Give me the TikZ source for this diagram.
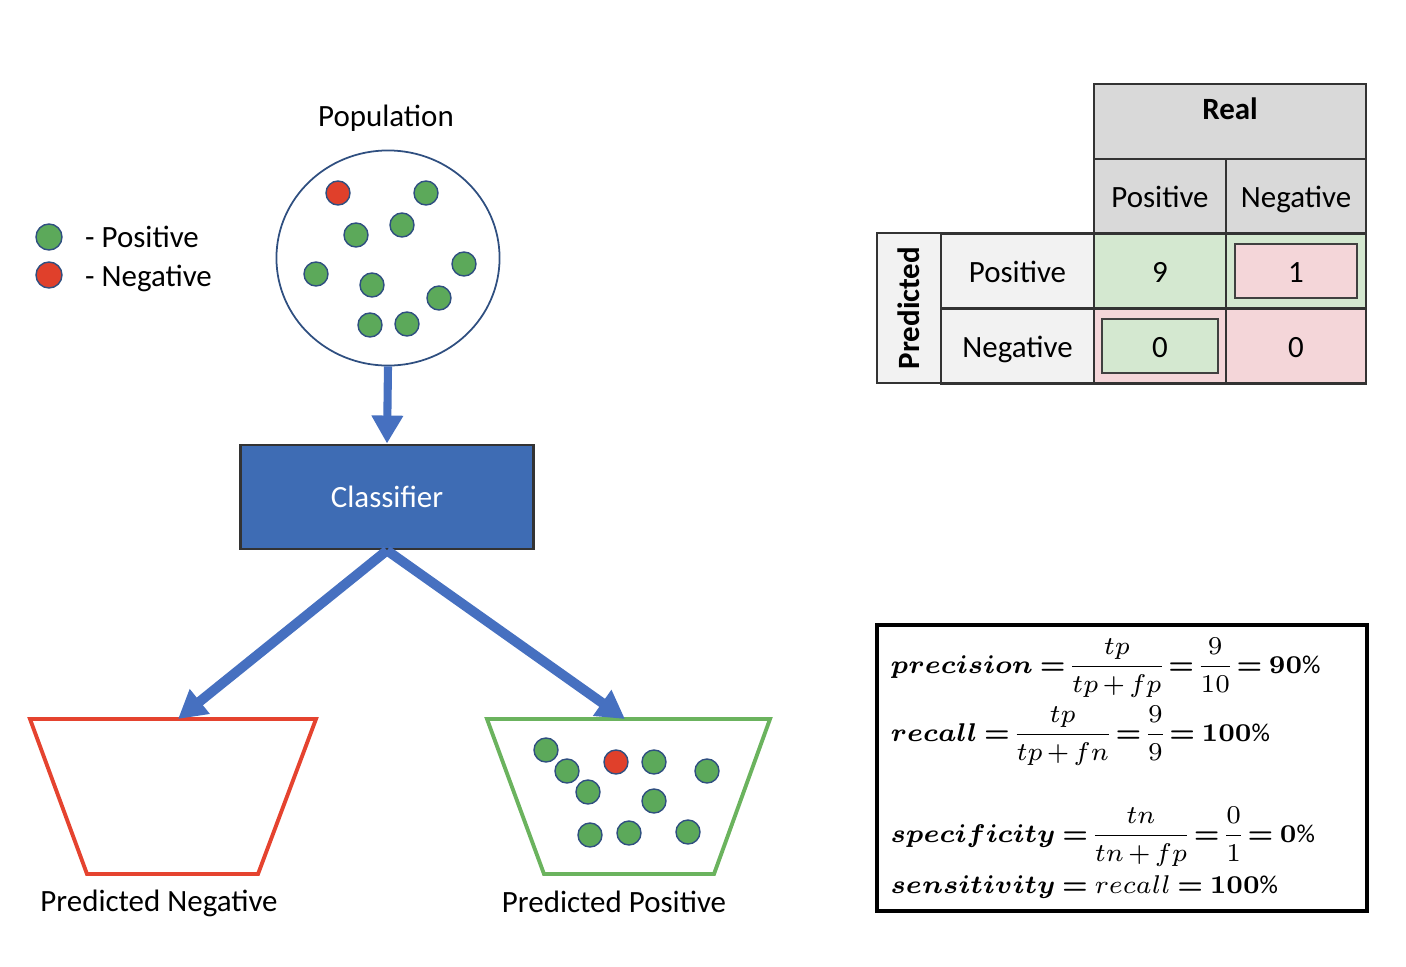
\RequirePackage{fix-cm}
\documentclass[tikz,border=0pt]{standalone}
\usepackage{amsmath,amssymb}
\usepackage{bm}
\usepackage{fontspec}
\setmainfont{Carlito}
\usepackage{xcolor}
\usepackage{tikz}
\usetikzlibrary{shapes,arrows.meta,positioning,calc,shapes.geometric}

\definecolor{arrowblue}{HTML}{4670C0}
\definecolor{clfblue}{HTML}{3E6CB4}
\definecolor{dotgreen}{HTML}{5CA95A}
\definecolor{dotred}{HTML}{E0402B}
\definecolor{dotline}{HTML}{2F4F80}
\definecolor{negred}{HTML}{E5432F}
\definecolor{posgreen}{HTML}{6BB35E}
\definecolor{headgray}{HTML}{D9D9D9}
\definecolor{lblgray}{HTML}{F2F2F2}
\definecolor{cellgreen}{HTML}{D4E8D0}
\definecolor{cellred}{HTML}{F4D6D9}

\newcommand{\formfont}{\fontsize{7.3}{9}\selectfont\thickmuskip=4mu\relax\medmuskip=2.5mu\relax\nulldelimiterspace=0pt\relax}

\begin{document}
\begin{tikzpicture}[x=0.01cm, y=-0.01cm, font=\fontsize{8.8}{10.5}\selectfont]
    \tikzstyle{dot} = [circle, draw=dotline, line width=0.4pt, minimum size=0.24cm, inner sep=0pt]
    \tikzstyle{posdot} = [dot, fill=dotgreen]
    \tikzstyle{negdot} = [dot, fill=dotred]
    \tikzstyle{bigarrow} = [draw=arrowblue, line width=2.3pt, -{Triangle[width=3mm, length=2.8mm]}]
    \tikzstyle{bucket} = [line width=1.1pt, line join=miter]
    \tikzstyle{cell} = [rectangle, draw=black!80, line width=0.7pt, minimum height=0.75cm, inner sep=0pt, text height=0.64em, text depth=0pt]
    \tikzstyle{inbox} = [rectangle, draw=black!75, line width=0.6pt, minimum height=0.54cm, inner sep=0pt, text height=0.64em, text depth=0pt]
    \tikzstyle{formula} = [anchor=base west, inner sep=0pt, font=\formfont]

    \useasboundingbox (0,0) rectangle (1406,966);

    % legend
    \node [posdot, minimum size=0.26cm] (legpos) at (49,237) {};
    \node [negdot, minimum size=0.26cm] (legneg) at (49,275) {};
    \node [right=0.1cm of legpos] (legpostxt) {- Positive};
    \node [right=0.1cm of legneg, yshift=-0.03cm] (legnegtxt) {- Negative};

    % population
    \node [ellipse, draw=dotline, line width=0.5pt, minimum width=2.23cm, minimum height=2.15cm] (pop) at (388,258) {};
    \node (poptitle) at (386,118) {Population};
    \node [negdot] (pd0) at (338,193) {};
    \foreach \x/\y [count=\i] in {426/193, 402/225, 356/235, 316/274, 464/264, 372/285, 439/298, 370/325, 407/324}
        \node [posdot] (pd\i) at (\x,\y) {};

    % classifier
    \node [rectangle, draw=black!80, line width=0.8pt, fill=clfblue, text=white, minimum width=2.93cm, minimum height=1.04cm] (clf) at (387,497) {Classifier};
    \draw [bigarrow] (pop.south) -- (clf.north);

    % outputs
    \coordinate (negtop) at (178,719);
    \coordinate (postop) at (625,719);
    \draw [bucket, draw=negred] (30,719) -- (316,719) -- (258,874) -- (87,874) -- cycle;
    \draw [bucket, draw=posgreen] (487,719) -- (770,719) -- (714,874) -- (544,874) -- cycle;
    \draw [bigarrow, line width=2.8pt] (clf.south) -- (negtop);
    \draw [bigarrow, line width=2.8pt] (clf.south) -- (postop);
    \node (neglbl) at (159,903) {Predicted Negative};
    \node (poslbl) at (614,902) {Predicted Positive};
    \node [negdot] (bd0) at (616,762) {};
    \foreach \x/\y [count=\i] in {546/750, 567/771, 654/762, 707/771, 588/792, 654/801, 590/835, 629/833, 688/832}
        \node [posdot] (bd\i) at (\x,\y) {};

    % confusion matrix
    \node [cell, fill=headgray, minimum width=2.72cm] (real) at (1230,121.5) {};
    \node (realtxt) at (1230,109) {\textbf{Real}};
    \node [cell, fill=headgray, minimum width=1.32cm, minimum height=0.74cm] (colpos) at (1160,196) {Positive};
    \node [cell, fill=headgray, minimum width=1.40cm, minimum height=0.74cm] (colneg) at (1296,196) {Negative};
    \node [rectangle, draw=black!80, line width=0.7pt, inner sep=0pt, fill=lblgray, minimum width=0.64cm, minimum height=1.5cm] (pred) at (909,308) {\rotatebox{90}{\textbf{Predicted}}};
    \node [cell, fill=lblgray, minimum width=1.53cm] (rowpos) at (1017.5,271) {Positive};
    \node [cell, fill=lblgray, minimum width=1.53cm] (rowneg) at (1017.5,346) {Negative};
    \node [cell, fill=cellgreen, minimum width=1.32cm] (tp) at (1160,271) {9};
    \node [cell, fill=cellgreen, minimum width=1.40cm] (fp) at (1296,271) {};
    \node [inbox, fill=cellred, minimum width=1.22cm] (fpbox) at (1296,271) {1};
    \node [cell, fill=cellred, minimum width=1.32cm] (fn) at (1160,346) {};
    \node [inbox, fill=cellgreen, minimum width=1.16cm] (fnbox) at (1160,346) {0};
    \node [cell, fill=cellred, minimum width=1.40cm] (tn) at (1296,346) {0};

    % metrics
    \node [rectangle, draw=black, line width=1.2pt, minimum width=4.90cm, minimum height=2.86cm] (metrics) at (1122,768) {};
    \node [formula] (fprec) at (890,673) {$\displaystyle \bm{precision =} \frac{tp}{tp+fp} \bm{=} \frac{9}{10} \bm{=90\%}$};
    \node [formula] (frec) at (890,741) {$\displaystyle \bm{recall =} \frac{tp}{tp+fn} \bm{=} \frac{9}{9} \bm{=100\%}$};
    \node [formula] (fspec) at (890,842) {$\displaystyle \bm{specificity =} \frac{tn}{tn+fp} \bm{=} \frac{0}{1} \bm{=0\%}$};
    \node [formula] (fsens) at (890,893) {$\displaystyle \bm{sensitivity =} recall \bm{=100\%}$};
\end{tikzpicture}
\end{document}
